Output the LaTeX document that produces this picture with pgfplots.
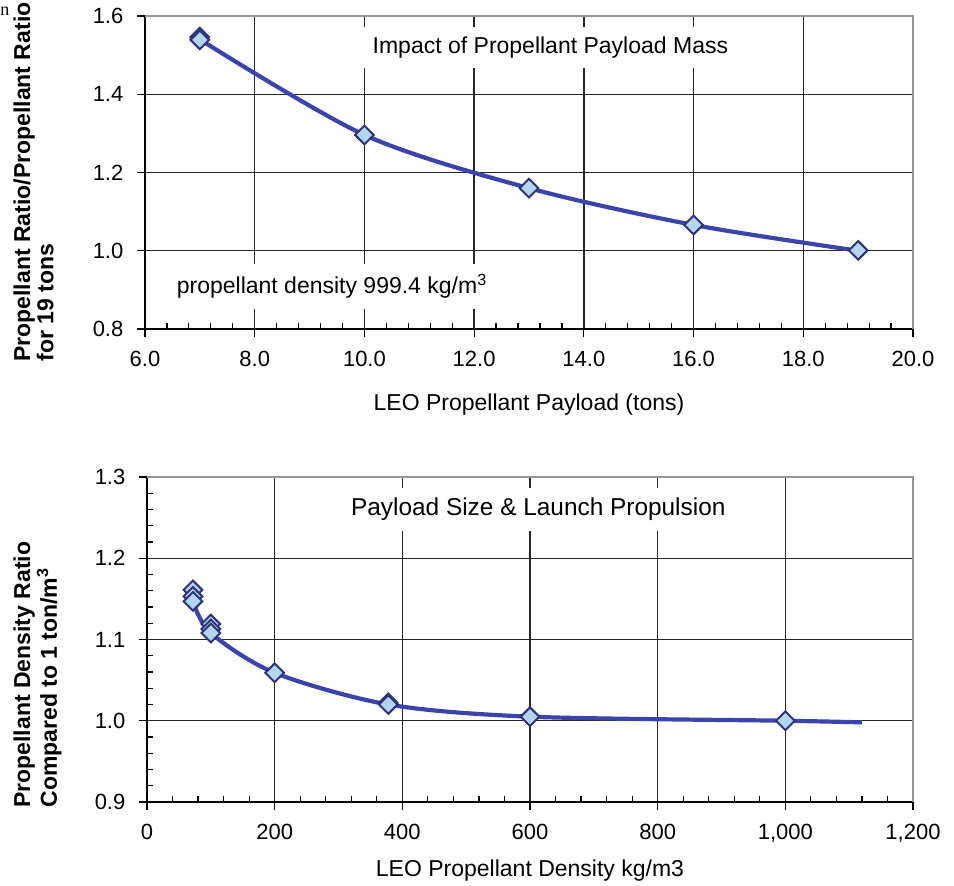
\documentclass[border=0pt]{standalone}
\usepackage{pgfplots}
\pgfplotsset{compat=1.18}
\usepackage{fontspec}
\setmainfont{Liberation Sans}
\newfontfamily\seriffont{Liberation Serif}

\definecolor{curveblue}{RGB}{58,68,172}
\definecolor{markfill}{RGB}{178,214,240}
\definecolor{markdraw}{RGB}{48,50,120}
\definecolor{framegray}{RGB}{150,150,150}

\tikzset{
  notebox/.style={fill=white, inner xsep=5pt, inner ysep=5pt,
    font=\fontsize{11.5}{13}\selectfont},
}

\pgfplotsset{
  chartbase/.style={
    scale only axis,
    axis lines*=left,
    axis line style={black, line width=0.8pt, -},
    tick align=inside,
    major tick length=-4pt,
    minor tick length=3pt,
    tick style={black, line width=0.6pt},
    grid=major,
    major grid style={black!85, line width=0.7pt},
    tick label style={font=\fontsize{11}{13}\selectfont},
    /pgf/number format/assume math mode=true,
    xticklabel style={yshift=-7.6pt},
    yticklabel style={xshift=-7.3pt},
    label style={font=\fontsize{11.5}{13}\selectfont},
    clip=false,
  },
  fitcurve/.style={curveblue, line width=2.1pt, smooth, no markers},
  datamarks/.style={only marks, mark=square*, mark size=3.3pt,
    mark options={rotate=45, fill=markfill, draw=markdraw, line width=1pt}},
}

\begin{document}
\begin{tikzpicture}
\useasboundingbox (0,0) rectangle (477pt,442.5pt);

% Upper chart: propellant ratio versus payload mass
\begin{axis}[chartbase,
  at={(72.5pt,278pt)}, anchor=south west,
  width=384pt, height=156.5pt,
  xmin=6, xmax=20, ymin=0.8, ymax=1.6,
  xtick distance=2, ytick distance=0.2,
  minor x tick num=4,
  xticklabel style={/pgf/number format/.cd, fixed, fixed zerofill, precision=1},
  yticklabel style={/pgf/number format/.cd, fixed, fixed zerofill, precision=1},
  xlabel={LEO Propellant Payload (tons)},
  xlabel style={at={(axis description cs:0.5,0)}, anchor=center, yshift=-38pt},
]
\draw[framegray, line width=1pt] (rel axis cs:0,1) -- (rel axis cs:1,1) -- (rel axis cs:1,0);
\node[notebox] at (axis cs:13.39,1.52) {Impact of Propellant Payload Mass};
\node[notebox] at (axis cs:9.41,0.909) {propellant density 999.4 kg/m\textsuperscript{3}};
\addplot[fitcurve] coordinates {
  (7,1.540) (10,1.296) (13,1.160) (16,1.066) (19,1.000)
};
\addplot[datamarks] coordinates {
  (7,1.546) (7,1.539) (10,1.296) (13,1.160) (16,1.066) (19,1.001)
};
\end{axis}

% Lower chart: density ratio versus propellant density
\begin{axis}[chartbase,
  at={(73.5pt,41.5pt)}, anchor=south west,
  width=383pt, height=162.5pt,
  xmin=0, xmax=1200, ymin=0.9, ymax=1.3,
  xtick distance=200, ytick distance=0.1,
  minor x tick num=4, minor y tick num=4,
  xticklabel style={/pgf/number format/.cd, fixed, 1000 sep={,}},
  yticklabel style={/pgf/number format/.cd, fixed, fixed zerofill, precision=1},
  xlabel={LEO Propellant Density kg/m3},
  xlabel style={at={(axis description cs:0.5,0)}, anchor=center, yshift=-34.5pt},
]
\draw[framegray, line width=1pt] (rel axis cs:0,1) -- (rel axis cs:1,1) -- (rel axis cs:1,0);
\node[notebox, font=\fontsize{12.2}{14}\selectfont] at (axis cs:613,1.260)
  {Payload Size \& Launch Propulsion};
\addplot[fitcurve] coordinates {
  (72,1.147) (100,1.108) (200,1.059) (378,1.020) (600,1.005) (1000,1.000) (1120,0.998)
};
\addplot[datamarks] coordinates {
  (72,1.161) (72,1.153) (72,1.147)
  (100,1.119) (100,1.113) (100,1.108)
  (200,1.059) (378,1.022) (378,1.020) (600,1.005) (1000,1.000)
};
\end{axis}

% Vertical axis titles, set flush to their lower ends
\node[rotate=90, anchor=north west, align=left, inner sep=0pt,
  font=\bfseries\fontsize{11.5}{11.7}\selectfont] at (6.5pt,261.5pt)
  {Propellant Ratio/Propellant Ratio\\for 19 tons};
\node[rotate=90, anchor=north west, align=left, inner sep=0pt,
  font=\bfseries\fontsize{11.5}{11.7}\selectfont] at (6.5pt,38.5pt)
  {Propellant Density Ratio\\Compared to 1 ton/m\textsuperscript{3}};
\node[anchor=north west, inner sep=0pt, font=\seriffont\fontsize{9}{10}\selectfont]
  at (0pt,439pt) {n};
\end{tikzpicture}
\end{document}
